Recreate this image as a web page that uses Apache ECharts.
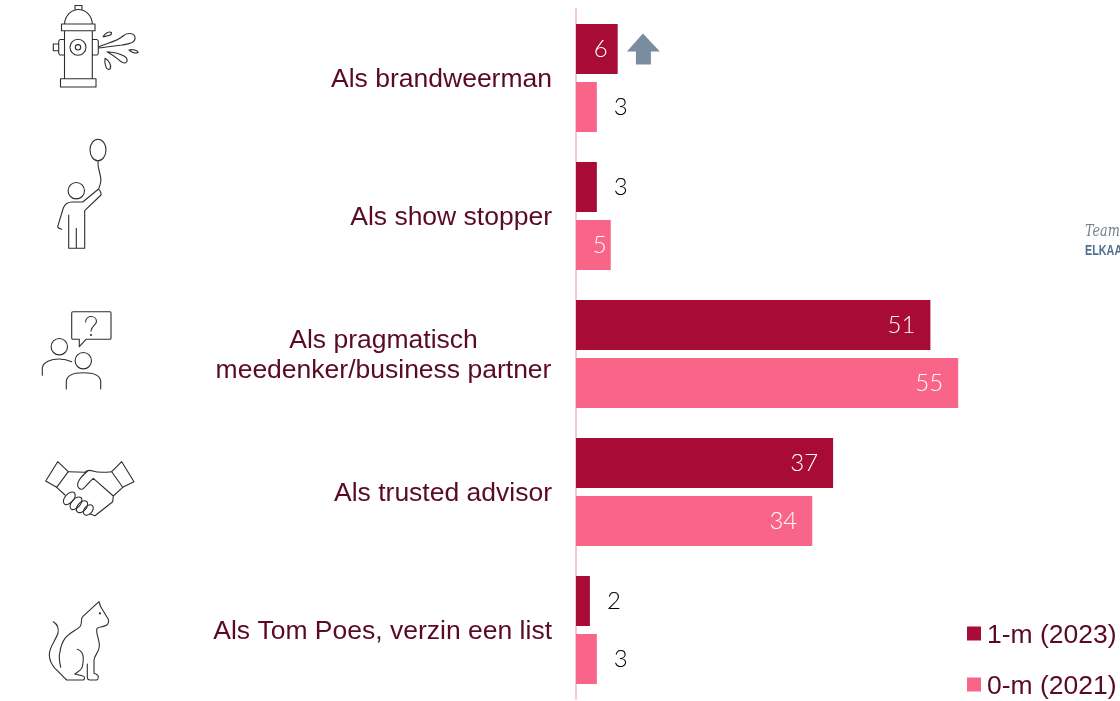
<!DOCTYPE html>
<html>
<head>
<meta charset="utf-8">
<script src="https://cdn.jsdelivr.net/npm/echarts@6/dist/echarts.min.js"></script>
<style>
  html, body { margin: 0; padding: 0; background: #fff; overflow: hidden; }
  #chart { width: 1120px; height: 701px; }
</style>
</head>
<body>
<div id="chart"></div>
<script>
// data
var categories = [
  'Als brandweerman',
  'Als show stopper',
  'Als pragmatisch\nmeedenker/business partner',
  'Als trusted advisor',
  'Als Tom Poes, verzin een list'
]
var seriesNames = ['1-m (2023)', '0-m (2021)']
var values2023 = [6, 3, 51, 37, 2]
var values2021 = [3, 5, 55, 34, 3]
var arrowAt = [9.7, 'Als brandweerman']

var TEXT = '#5A0A25'
var DARK = '#A80B35'
var PINK = '#F96489'
var NUM_FONT = 'Lato'

// line icons, drawn in page coordinates
var hydrant = '<path d="M75 10V5.500h7V10M64.500 24C65 15 72 9.500 78.500 9.500S92 15 92.300 24M61.500 24H95V30.700H61.500ZM64.500 30.700V78.700M92.300 30.700V78.700M60.500 78.700H96V87H60.500ZM64.500 39.500H60L58.700 41V53.500L60 55H64.500M92.300 39.500H97L98.300 41V53.500L97 55H92.300M58.700 44H53.300V50.700H58.700"/>' +
  '<circle cx="78" cy="47.300" r="8"/><circle cx="78" cy="47.300" r="2.700"/>' +
  '<path d="M98.700 46.700C108 43 118 41 123 36C127 32 134 33 135 37C136 43 128 44 122 45C114 46 106 47 99 48M107 51.700C114 52 120 54 124 56C128 58 128 62 125 63C121 64 119 58 107 51.700M103 36.700C105 33 109 31 111.500 32.500C112 36 107 36 103 36.700M129 50C132 49 138 50 138 52.500C135 54 131 52 129 50M105 58.300C109 60 112 66 110 69C107 71 104 65 105 58.300"/>'
var balloon = '<ellipse cx="98" cy="150" rx="8" ry="10.700"/><path d="M98 160.700C97 170 102 175 100.700 182C100 186 99 188 98.700 189"/>' +
  '<circle cx="76.300" cy="190.700" r="8.200"/>' +
  '<path d="M98.300 189.300C100 190 101.500 193 101 195L84.700 210.700V248.300H68.700V215M76.300 228.300V248.300M98.300 189.300L82.700 202H72C67 202 64.500 205 63.300 208L57.700 226.700C58 228 60 229 61.700 229.300"/>'
var people = '<path d="M73 311.700H110Q111 311.700 111 313V338Q111 339.300 110 339.300H86L79.300 346.700V339.300H73Q71.700 339.300 71.700 338V313Q71.700 311.700 73 311.700Z"/>' +
  '<path d="M85.500 322C86 318 89 316.500 91 316.500C94 316.500 96.500 318.500 96.500 321.500C96.500 325 91 326 91 331"/><circle cx="91" cy="335" r=".5"/>' +
  '<circle cx="59.300" cy="346.700" r="8.200"/><circle cx="83.300" cy="360.700" r="8.200"/>' +
  '<path d="M42.300 375.300V368C43 362 51 359 59.300 359C64 359 68 360 71.700 361.700M66.300 389V381C67 375 75 372.700 83.300 372.700C92 372.700 100 375 100.700 381V389"/>'
var handshake = '<path d="M57.700 461.700L68.300 471.700L56.700 487.300L45.700 481ZM121.700 461.700L134 481.700L122.700 487.300L111.700 471.700Z"/>' +
  '<path d="M68.300 471.700L85 472.300C87 470 90 470 93 471C97 472.500 104 472.500 111.700 471.700M88.300 470.500C84 474 79 479 77.700 483.300C77 487 79.500 490 82.500 489C85 488 89 482 93.300 478.300L113.300 496M122.700 487.300L113.300 496L112.700 501.700L95 515.700L90 514M56.700 487.300L65 495"/>' +
  '<ellipse cx="69.300" cy="498.300" rx="7.500" ry="4.300" transform="rotate(-48 69.300 498.300)"/><ellipse cx="76" cy="503.300" rx="7.500" ry="4.300" transform="rotate(-48 76 503.300)"/>' +
  '<ellipse cx="82" cy="506.700" rx="7" ry="4.300" transform="rotate(-48 82 506.700)"/><ellipse cx="88.300" cy="510" rx="6" ry="4" transform="rotate(-48 88.300 510)"/>'
var cat = '<path d="M53.300 621.700C57 624 59 628 58 633C56 640 49 647 49.300 655C49.500 661 52 665 55 668.300C59 672 62 676 66.700 680H83C85 680 85 676 83 676L75 674"/>' +
  '<path d="M60.700 667.300C59 660 59 655 60 651.700C61 645 63 641 65 638.300C69 633 75 631 80 626.700C83 623 80 619 82.700 616.700L99 601.700L100.700 606.700L108.300 619.300C109 622 108 624 106.700 625C103 628 97 626 96.700 629.300C96 635 100 640 99.300 646.700C99 652 94 656 94 660V673.300C96 674 99 675 98.300 677.500C98 679 97 680 96.700 680H90C88 680 87.300 678 87.300 676.700V664"/>' +
  '<path d="M77.300 649.300C81 650 83.500 654 83.300 658.300C83 663 83 666 81.700 668.300C80 671 77 672 75 674"/><circle cx="100" cy="613.300" r=".6"/>'

var iconSvg = '<svg xmlns="http://www.w3.org/2000/svg" width="160" height="701" viewBox="0 0 160 701">' +
  '<g fill="none" stroke="#2e2e2e" stroke-width="1.100" stroke-linejoin="round" stroke-linecap="round">' +
  hydrant + balloon + people + handshake + cat + '</g></svg>'

// labels of the short bars sit beside the bar, the rest inside at the end
function barData (values) {
  return values.map(function (v) {
    var inside = v >= 5
    return {
      value: v,
      label: {
        position: inside ? 'insideRight' : 'right',
        distance: inside ? (v > 10 ? 15 : (v === 5 ? 4 : 10)) : 17,
        color: inside ? '#fff' : '#000'
      }
    }
  })
}

var myChart = echarts.init(document.getElementById('chart'))
myChart.setOption({
  animation: false,
  backgroundColor: '#fff',
  grid: { left: 576, top: 9, width: 542, height: 690 },
  legend: {
    left: 967,
    top: 618,
    height: 120,
    orient: 'vertical',
    data: seriesNames,
    icon: 'rect',
    itemWidth: 14,
    itemHeight: 14,
    itemGap: 20,
    padding: 0,
    selectedMode: false,
    formatter: '{t|{name}}',
    textStyle: {
      rich: {
        t: {
          color: TEXT,
          fontFamily: 'Liberation Sans',
          fontSize: 26.5,
          lineHeight: 28,
          padding: [4, 0, 0, 1]
        }
      }
    }
  },
  xAxis: {
    type: 'value',
    min: 0,
    max: 78,
    show: false
  },
  yAxis: {
    type: 'category',
    inverse: true,
    data: categories,
    axisTick: { show: false },
    axisLine: { lineStyle: { color: '#FBC5D4', width: 2 } },
    axisLabel: {
      interval: 0,
      margin: 24,
      padding: [4, 0, 0, 0],
      color: TEXT,
      fontFamily: 'Liberation Sans',
      fontSize: 26.5,
      formatter: function (v) {
        if (v.indexOf('\n') < 0) return v
        return v.split('\n').map(function (l) { return '{c|' + l + '}' }).join('\n')
      },
      rich: {
        c: {
          width: 337,
          align: 'center',
          lineHeight: 30,
          color: TEXT,
          fontFamily: 'Liberation Sans',
          fontSize: 26.5
        }
      }
    }
  },
  series: [
    {
      name: seriesNames[0],
      type: 'bar',
      barWidth: 50,
      barGap: '16%',
      itemStyle: { color: DARK },
      label: { show: true, fontFamily: NUM_FONT, fontWeight: 300, fontSize: 24 },
      data: barData(values2023),
      markPoint: {
        silent: true,
        symbol: 'path://M16 0L33 18H24V31H9V18H0Z',
        symbolSize: [33, 31],
        itemStyle: { color: '#7A8D9E' },
        label: { show: false },
        data: [{ coord: arrowAt }]
      }
    },
    {
      name: seriesNames[1],
      type: 'bar',
      barWidth: 50,
      barGap: '16%',
      itemStyle: { color: PINK },
      label: { show: true, fontFamily: NUM_FONT, fontWeight: 300, fontSize: 24 },
      data: barData(values2021)
    }
  ],
  graphic: [
    {
      type: 'image',
      left: 0,
      top: 0,
      silent: true,
      style: {
        image: 'data:image/svg+xml;charset=utf-8,' + encodeURIComponent(iconSvg),
        width: 160,
        height: 701
      }
    },
    {
      type: 'text',
      x: 1085,
      y: 224,
      scaleX: 0.8,
      silent: true,
      style: { text: 'Team', fill: '#75828c', font: 'italic 16px "DejaVu Serif"' }
    },
    {
      type: 'text',
      x: 1085,
      y: 243,
      scaleX: 0.72,
      silent: true,
      style: { text: 'ELKAAR', fill: '#4f7190', font: 'bold 15px "Liberation Sans"' }
    }
  ]
})
</script>
</body>
</html>
